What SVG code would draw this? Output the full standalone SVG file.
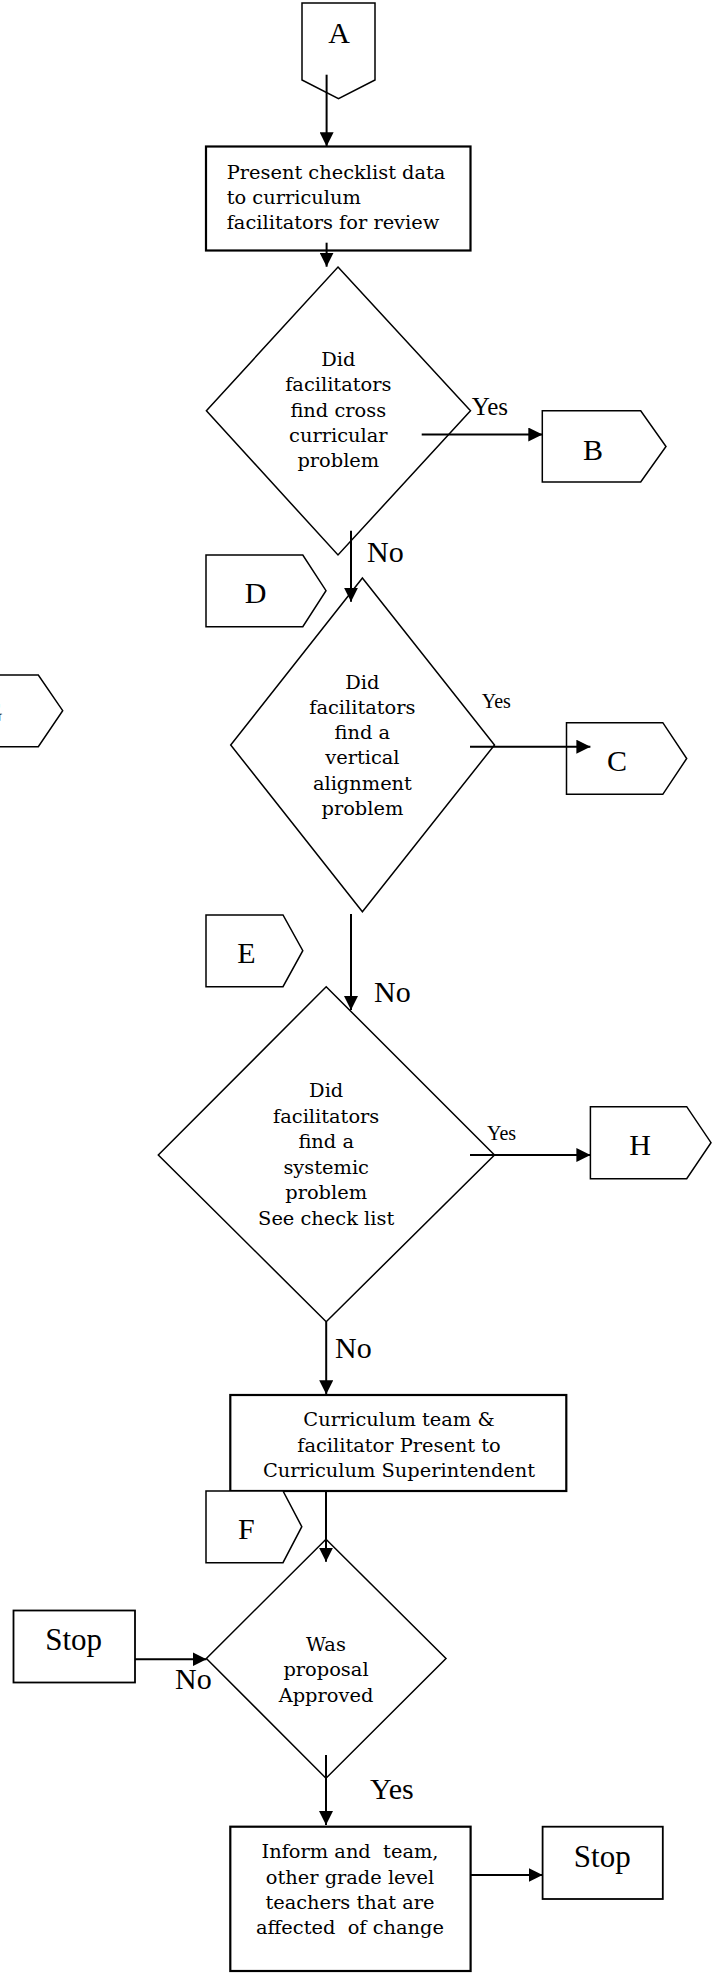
<svg xmlns="http://www.w3.org/2000/svg" width="719" height="1975" viewBox="0 0 719 1975">
  <style>
    .box { fill: #fff; stroke: #000; stroke-width: 2.2; }
    .stopbox { fill: #fff; stroke: #000; stroke-width: 1.8; }
    .dia { fill: none; stroke: #000; stroke-width: 1.5; }
    .conn { fill: #fff; stroke: #000; stroke-width: 1.5; stroke-linejoin: miter; }
    .flow { fill: none; stroke: #000; stroke-width: 2; }
    .body { font-family: "DejaVu Serif", serif; font-size: 19.4px; fill: #000; text-anchor: middle; white-space: pre; }
    .big { font-family: "Liberation Serif", "Times New Roman", serif; font-size: 30px; fill: #000; text-anchor: middle; }
    .lbl { font-family: "Liberation Serif", "Times New Roman", serif; fill: #000; }
  </style>
  <defs>
    <marker id="arrow" viewBox="0 0 14 14" refX="14" refY="7" markerWidth="14" markerHeight="14" markerUnits="userSpaceOnUse" orient="auto">
      <path d="M0,0 L14,7 L0,14 Z" fill="#000"/>
    </marker>
  </defs>

  <rect width="719" height="1975" fill="#fff"/>

  <!-- off-page connector A (points down) -->
  <g id="conn-a">
    <path class="conn" d="M302,3 L375,3 L375,80 L338.5,98.7 L302,80 Z"/>
    <text class="big" x="339" y="42.7">A</text>
  </g>

  <!-- first process box -->
  <g id="box-present">
    <rect class="box" x="206" y="146.5" width="264.5" height="104"/>
    <text class="body" style="text-anchor:start" x="226.7" y="178.8">Present checklist data</text>
    <text class="body" style="text-anchor:start" x="226.7" y="204.1">to curriculum</text>
    <text class="body" style="text-anchor:start" x="226.7" y="229.4">facilitators for review</text>
  </g>

  <!-- decision: cross curricular -->
  <g id="dec-cross">
    <path class="dia" d="M338,267 L470.5,410.7 L338,555 L206.4,410.7 Z"/>
    <text class="body" x="338.3" y="366">Did</text>
    <text class="body" x="338.3" y="391.2">facilitators</text>
    <text class="body" x="338.3" y="416.5">find cross</text>
    <text class="body" x="338.3" y="441.8">curricular</text>
    <text class="body" x="338.3" y="467">problem</text>
  </g>

  <g id="conn-b">
    <path class="conn" d="M542.3,410.7 L640.7,410.7 L666,446.5 L640.7,482 L542.3,482 Z"/>
    <text class="big" x="593" y="460">B</text>
  </g>

  <g id="conn-d">
    <path class="conn" d="M206,555 L302.8,555 L326,590.7 L302.8,626.7 L206,626.7 Z"/>
    <text class="big" x="255.5" y="603.3">D</text>
  </g>

  <g id="conn-g">
    <path class="conn" d="M-59,675 L38.3,675 L62.7,710.7 L38.3,746.7 L-59,746.7 Z"/>
    <text class="big" x="-8" y="721.7">G</text>
  </g>

  <!-- decision: vertical alignment -->
  <g id="dec-vertical">
    <path class="dia" d="M362.4,578 L494.5,745 L362.4,911.7 L230.7,745 Z"/>
    <text class="body" x="362.4" y="688.5">Did</text>
    <text class="body" x="362.4" y="713.8">facilitators</text>
    <text class="body" x="362.4" y="739.1">find a</text>
    <text class="body" x="362.4" y="764.4">vertical</text>
    <text class="body" x="362.4" y="789.7">alignment</text>
    <text class="body" x="362.4" y="815">problem</text>
  </g>

  <g id="conn-c">
    <path class="conn" d="M566.5,722.7 L662.8,722.7 L686.7,758.5 L662.8,794.3 L566.5,794.3 Z"/>
    <text class="big" x="617" y="771">C</text>
  </g>

  <g id="conn-e">
    <path class="conn" d="M206,915 L283,915 L302.8,950.7 L283,986.7 L206,986.7 Z"/>
    <text class="big" x="246.3" y="963.3">E</text>
  </g>

  <!-- decision: systemic problem -->
  <g id="dec-systemic">
    <path class="dia" d="M326.2,986.7 L494.5,1155 L326.2,1321.7 L158.3,1155 Z"/>
    <text class="body" x="326.2" y="1097">Did</text>
    <text class="body" x="326.2" y="1122.6">facilitators</text>
    <text class="body" x="326.2" y="1148.2">find a</text>
    <text class="body" x="326.2" y="1173.8">systemic</text>
    <text class="body" x="326.2" y="1199.4">problem</text>
    <text class="body" x="326.2" y="1225">See check list</text>
  </g>

  <g id="conn-h">
    <path class="conn" d="M590.4,1106.7 L686.7,1106.7 L711,1142.7 L686.7,1178.7 L590.4,1178.7 Z"/>
    <text class="big" x="640" y="1155">H</text>
  </g>

  <!-- presentation box -->
  <g id="box-superintendent">
    <rect class="box" x="230.3" y="1395" width="336" height="96"/>
    <text class="body" x="399" y="1426.3">Curriculum team &amp;</text>
    <text class="body" x="399" y="1452">facilitator Present to</text>
    <text class="body" x="399" y="1477.3">Curriculum Superintendent</text>
  </g>

  <g id="conn-f">
    <path class="conn" d="M206,1491 L283,1491 L301.8,1526.7 L283,1562.7 L206,1562.7 Z"/>
    <text class="big" x="246.3" y="1539.3">F</text>
  </g>

  <!-- decision: approval -->
  <g id="dec-approved">
    <path class="dia" d="M326,1539.3 L446,1658.5 L326,1778.3 L206.4,1658.5 Z"/>
    <text class="body" x="326" y="1650.5">Was</text>
    <text class="body" x="326" y="1676.1">proposal</text>
    <text class="body" x="326" y="1701.7">Approved</text>
  </g>

  <g id="stop-left">
    <rect class="stopbox" x="13.5" y="1610.5" width="121.5" height="72"/>
    <text class="big" style="font-size:31px" x="73.7" y="1650">Stop</text>
  </g>

  <!-- final process box -->
  <g id="box-inform">
    <rect class="box" x="230.3" y="1826.7" width="240.3" height="144.3"/>
    <text class="body" x="350" y="1858.3">Inform and  team,</text>
    <text class="body" x="350" y="1883.6">other grade level</text>
    <text class="body" x="350" y="1908.9">teachers that are</text>
    <text class="body" x="350" y="1934.2">affected  of change</text>
  </g>

  <g id="stop-right">
    <rect class="stopbox" x="542.6" y="1826.7" width="120.2" height="72.3"/>
    <text class="big" style="font-size:31px" x="602.3" y="1866.7">Stop</text>
  </g>

  <!-- connectors and their labels -->
  <g id="connectors">
    <line class="flow" x1="326.6" y1="74.7" x2="326.6" y2="146.3" marker-end="url(#arrow)"/>
    <line class="flow" x1="326.6" y1="242.7" x2="326.6" y2="266.7" marker-end="url(#arrow)"/>
    <line class="flow" x1="421.7" y1="434.5" x2="542.3" y2="434.5" marker-end="url(#arrow)"/>
    <text class="lbl" style="font-size:25px" x="471.7" y="415">Yes</text>
    <line class="flow" x1="351" y1="530.7" x2="351" y2="601.7" marker-end="url(#arrow)"/>
    <text class="lbl" style="font-size:30px" x="367" y="561.7">No</text>
    <line class="flow" x1="470" y1="746.7" x2="590.4" y2="746.7" marker-end="url(#arrow)"/>
    <text class="lbl" style="font-size:20px" x="481.7" y="708.3">Yes</text>
    <line class="flow" x1="351" y1="914" x2="351" y2="1010" marker-end="url(#arrow)"/>
    <text class="lbl" style="font-size:30px" x="374" y="1001.7">No</text>
    <line class="flow" x1="470" y1="1155" x2="590.4" y2="1155" marker-end="url(#arrow)"/>
    <text class="lbl" style="font-size:20px" x="487" y="1140">Yes</text>
    <line class="flow" x1="326.2" y1="1321.7" x2="326.2" y2="1394.3" marker-end="url(#arrow)"/>
    <text class="lbl" style="font-size:30px" x="335" y="1358.3">No</text>
    <line class="flow" x1="326" y1="1491" x2="326" y2="1561.7" marker-end="url(#arrow)"/>
    <line class="flow" x1="135" y1="1659.3" x2="206.5" y2="1659.3" marker-end="url(#arrow)"/>
    <text class="lbl" style="font-size:30px" x="175" y="1689.3">No</text>
    <line class="flow" x1="326" y1="1755" x2="326" y2="1825" marker-end="url(#arrow)"/>
    <text class="lbl" style="font-size:30px" x="370" y="1799">Yes</text>
    <line class="flow" x1="470.6" y1="1875" x2="542.6" y2="1875" marker-end="url(#arrow)"/>
  </g>
</svg>
